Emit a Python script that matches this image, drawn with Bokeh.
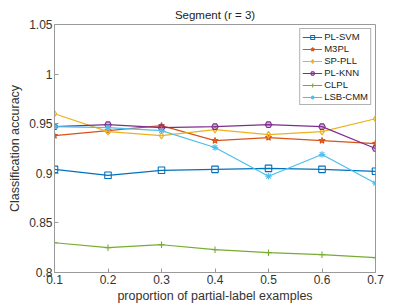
from bokeh.plotting import figure
from bokeh.models import FixedTicker, Range1d, Legend, LegendItem, Title
from bokeh.embed import file_html
from bokeh.resources import INLINE

x = [0.1, 0.2, 0.3, 0.4, 0.5, 0.6, 0.7]
pl_svm = [0.904, 0.898, 0.903, 0.904, 0.905, 0.904, 0.902]
m3pl = [0.938, 0.943, 0.948, 0.933, 0.936, 0.933, 0.930]
sp_pll = [0.960, 0.942, 0.938, 0.944, 0.939, 0.942, 0.955]
pl_knn = [0.947, 0.949, 0.946, 0.947, 0.949, 0.947, 0.925]
clpl = [0.830, 0.825, 0.828, 0.823, 0.820, 0.818, 0.815]
lsb_cmm = [0.947, 0.946, 0.943, 0.926, 0.897, 0.919, 0.890]

names = ["PL-SVM", "M3PL", "SP-PLL", "PL-KNN", "CLPL", "LSB-CMM"]
series = [pl_svm, m3pl, sp_pll, pl_knn, clpl, lsb_cmm]
colors = ["#0072BD", "#D95319", "#EDB120", "#7E2F8E", "#77AC30", "#4DBEEE"]
markers = ["square", "star", "diamond", "hex", "cross", "asterisk"]

x_ticks = [0.1, 0.2, 0.3, 0.4, 0.5, 0.6, 0.7]
y_ticks = [0.8, 0.85, 0.9, 0.95, 1.0, 1.05]
y_labels = ["0.8", "0.85", "0.9", "0.95", "1", "1.05"]

FONT = "Liberation Sans"
AX = "#9a9a9a"
TXT = "#333333"

p = figure(width=415, height=305, output_backend="svg", toolbar_location=None,
           x_range=Range1d(0.1, 0.7), y_range=Range1d(0.8, 1.05),
           min_border_left=54, min_border_right=40, min_border_top=24, min_border_bottom=33,
           x_axis_label="proportion of partial-label examples",
           y_axis_label="Classification accuracy")
p.title = Title(text="Segment (r = 3)", align="center", text_font=FONT,
                text_font_size="11.5px", text_font_style="normal", text_color="#222222",
                standoff=7, offset=0)
p.xgrid.visible = False
p.ygrid.visible = False
p.outline_line_color = AX
p.background_fill_color = "white"
p.border_fill_color = "white"

items = []
for name, vals, c, m in zip(names, series, colors, markers):
    r1 = p.line(x, vals, line_color=c, line_width=1.2)
    r2 = p.scatter(x, vals, marker=m, size=6.5, line_color=c, fill_color=c,
                   fill_alpha=0.0 if m not in ("star", "hex") else 0.35, line_width=1.1)
    items.append(LegendItem(label=name, renderers=[r1, r2]))

for ax in p.xaxis + p.yaxis:
    ax.axis_line_color = AX
    ax.major_tick_line_color = AX
    ax.minor_tick_line_color = None
    ax.major_tick_in = 4
    ax.major_tick_out = 0
    ax.major_label_text_font = FONT
    ax.major_label_text_font_size = "12px"
    ax.major_label_text_color = TXT
    ax.axis_label_text_font = FONT
    ax.axis_label_text_font_size = "12.5px"
    ax.axis_label_text_font_style = "normal"
    ax.axis_label_text_color = TXT
    ax.major_label_standoff = 2
    ax.axis_label_standoff = 2

p.xaxis.ticker = FixedTicker(ticks=x_ticks)
p.yaxis.ticker = FixedTicker(ticks=y_ticks)
p.yaxis.major_label_overrides = {t: l for t, l in zip(y_ticks, y_labels)}
p.xaxis.axis_label_standoff = 2
p.yaxis.axis_label_standoff = 4

legend = Legend(items=items, location="top_right", label_text_font=FONT,
                label_text_font_size="9.5px", label_text_color="#222222",
                label_height=10, glyph_height=10, glyph_width=20, spacing=1,
                padding=2, margin=4, border_line_color="#666666",
                label_standoff=2, background_fill_alpha=1.0)
p.add_layout(legend, "center")

open("out.html", "w").write(file_html(p, INLINE))
